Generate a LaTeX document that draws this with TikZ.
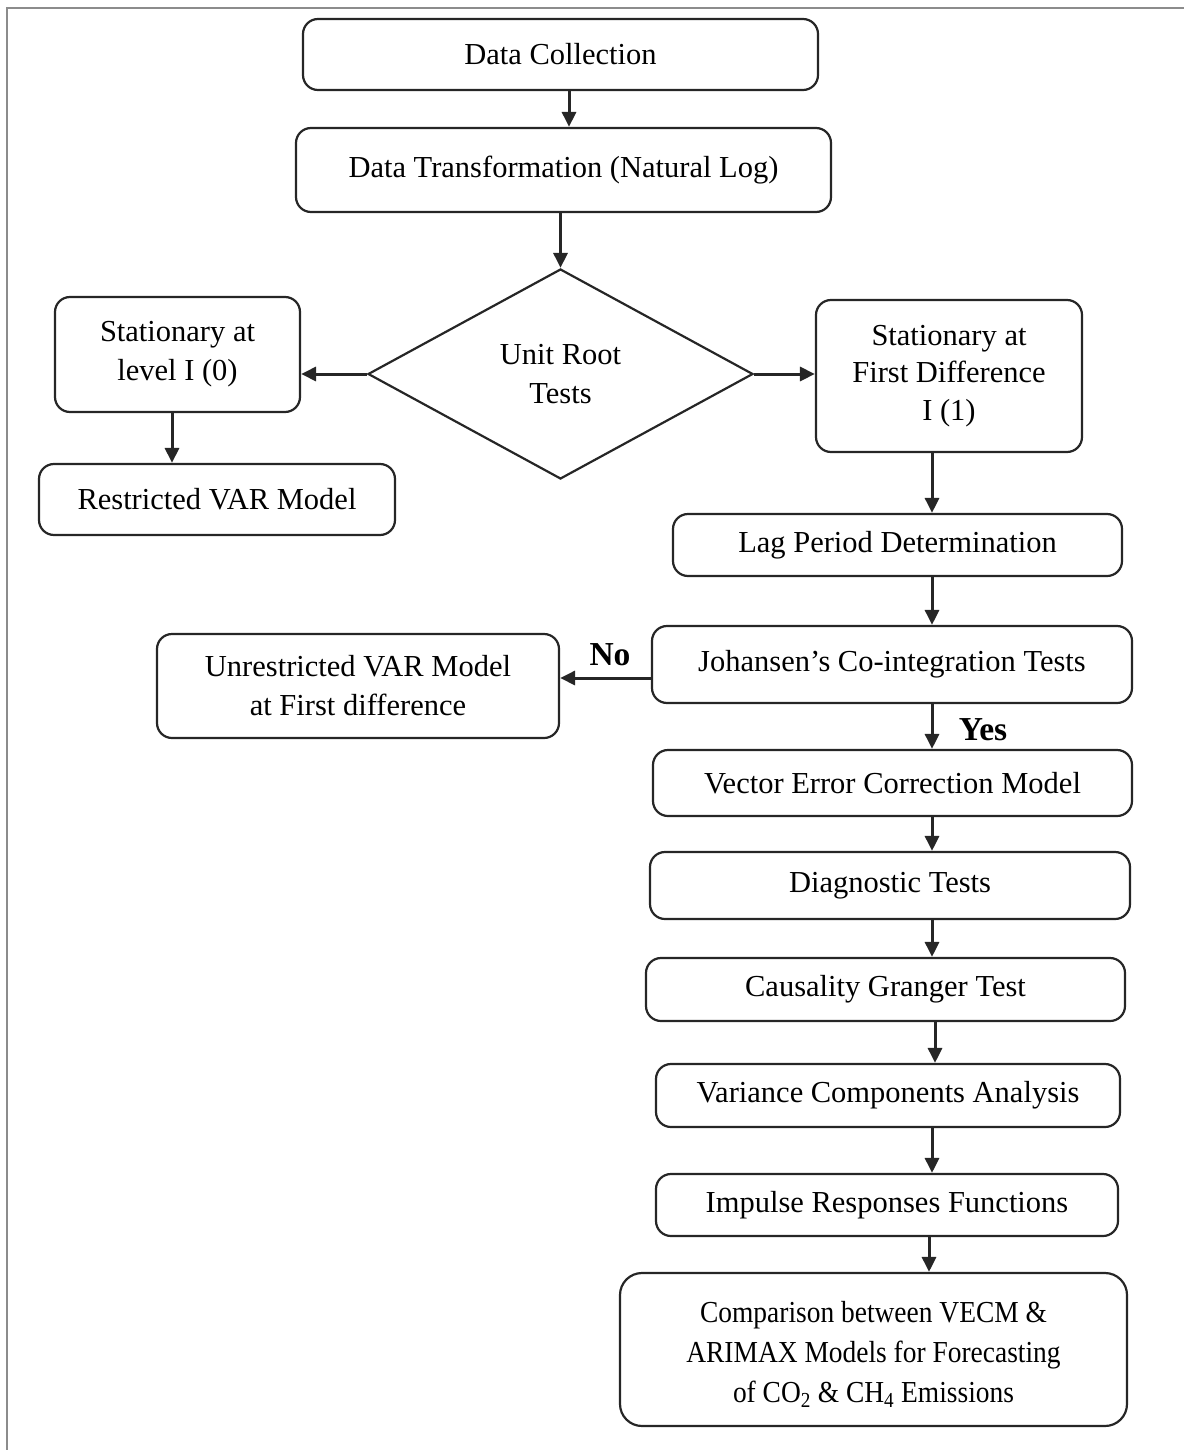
\documentclass[tikz,border=0pt]{standalone}
\usepackage{fontspec}
\setmainfont{Liberation Serif}
\newfontfamily\condserif[FakeStretch=0.9]{Liberation Serif}
\usetikzlibrary{shapes.geometric,arrows.meta}
\begin{document}
\begin{tikzpicture}[x=1pt,y=-1pt,
  box/.style={draw=black!85,line width=2.2pt,rounded corners=15pt,align=center,inner sep=0pt,
    font=\fontsize{30.5}{39}\selectfont},
  dia/.style={draw=black!85,line width=2.2pt,diamond,inner sep=0pt,align=center,
    font=\fontsize{30.5}{39}\selectfont},
  arr/.style={draw=black!85,line width=3pt,-{Triangle[length=15pt,width=14pt]}},
  lbl/.style={font=\fontsize{33.5}{38}\selectfont\bfseries,inner sep=0pt}]
\useasboundingbox (0,0) rectangle (1184,1450);
\draw[black!45,line width=2.5pt] (7,1450) -- (7,8) -- (1184,8);

\node[box,minimum width=515pt,minimum height=71pt] (dc) at (560.5,54.5) {Data Collection};
\node[box,minimum width=535pt,minimum height=84pt] (dt) at (563.5,170) {Data Transformation (Natural Log)};
\node[dia,minimum width=385pt,minimum height=210pt] (ur) at (560.5,374) {Unit Root\\Tests};
\node[box,minimum width=245pt,minimum height=115pt] (sl) at (177.5,354.5) {Stationary at\\level I (0)};
\node[box,minimum width=356pt,minimum height=71pt] (rv) at (217,499.5) {Restricted VAR Model};
\node[box,minimum width=266pt,minimum height=152pt,font=\fontsize{30.5}{37.5}\selectfont] (sf) at (949,376) {Stationary at\\First Difference\\I (1)};
\node[box,minimum width=449pt,minimum height=62pt] (lag) at (897.5,545) {Lag Period Determination};
\node[box,minimum width=480pt,minimum height=77pt] (joh) at (892,664.5) {Johansen’s Co-integration Tests};
\node[box,minimum width=402pt,minimum height=104pt] (unr) at (358,686) {Unrestricted VAR Model\\at First difference};
\node[box,minimum width=479pt,minimum height=66pt] (vec) at (892.5,783) {Vector Error Correction Model};
\node[box,minimum width=480pt,minimum height=67pt] (dg) at (890,885.5) {Diagnostic Tests};
\node[box,minimum width=479pt,minimum height=63pt] (cg) at (885.5,989.5) {Causality Granger Test};
\node[box,minimum width=464pt,minimum height=63pt] (vc) at (888,1095.5) {Variance Components Analysis};
\node[box,minimum width=462pt,minimum height=62pt] (ir) at (887,1205) {Impulse Responses Functions};
\node[box,minimum width=507pt,minimum height=153pt,rounded corners=22pt,
  font=\condserif\fontsize{30.5}{40}\selectfont] (cmp) at (873.5,1349.5)
  {\rule{0pt}{31pt}Comparison between VECM \&\\ARIMAX Models for Forecasting\\of CO\textsubscript{2} \& CH\textsubscript{4} Emissions};

\coordinate (xa) at (569,0);
\coordinate (xb) at (172,0);
\coordinate (xc) at (932,0);
\coordinate (xd) at (935,0);
\coordinate (xe) at (929,0);

\draw[arr] (dc.south -| xa) -- (dt.north -| xa);
\draw[arr] (dt.south -| ur.north) -- (ur.north);
\draw[arr] (ur.west) -- (ur.west -| sl.east);
\draw[arr] (ur.east) -- (ur.east -| sf.west);
\draw[arr] (sl.south -| xb) -- (rv.north -| xb);
\draw[arr] (sf.south -| xc) -- (lag.north -| xc);
\draw[arr] (lag.south -| xc) -- (joh.north -| xc);
\draw[arr] ([yshift=-13.5pt]joh.west) -- ([yshift=-13.5pt]joh.west -| unr.east);
\draw[arr] (joh.south -| xc) -- (vec.north -| xc);
\draw[arr] (vec.south -| xc) -- (dg.north -| xc);
\draw[arr] (dg.south -| xc) -- (cg.north -| xc);
\draw[arr] (cg.south -| xd) -- (vc.north -| xd);
\draw[arr] (vc.south -| xc) -- (ir.north -| xc);
\draw[arr] (ir.south -| xe) -- (cmp.north -| xe);

\node[lbl] (no) at (610,655) {No};
\node[lbl] (yes) at (983,730) {Yes};
\end{tikzpicture}
\end{document}
